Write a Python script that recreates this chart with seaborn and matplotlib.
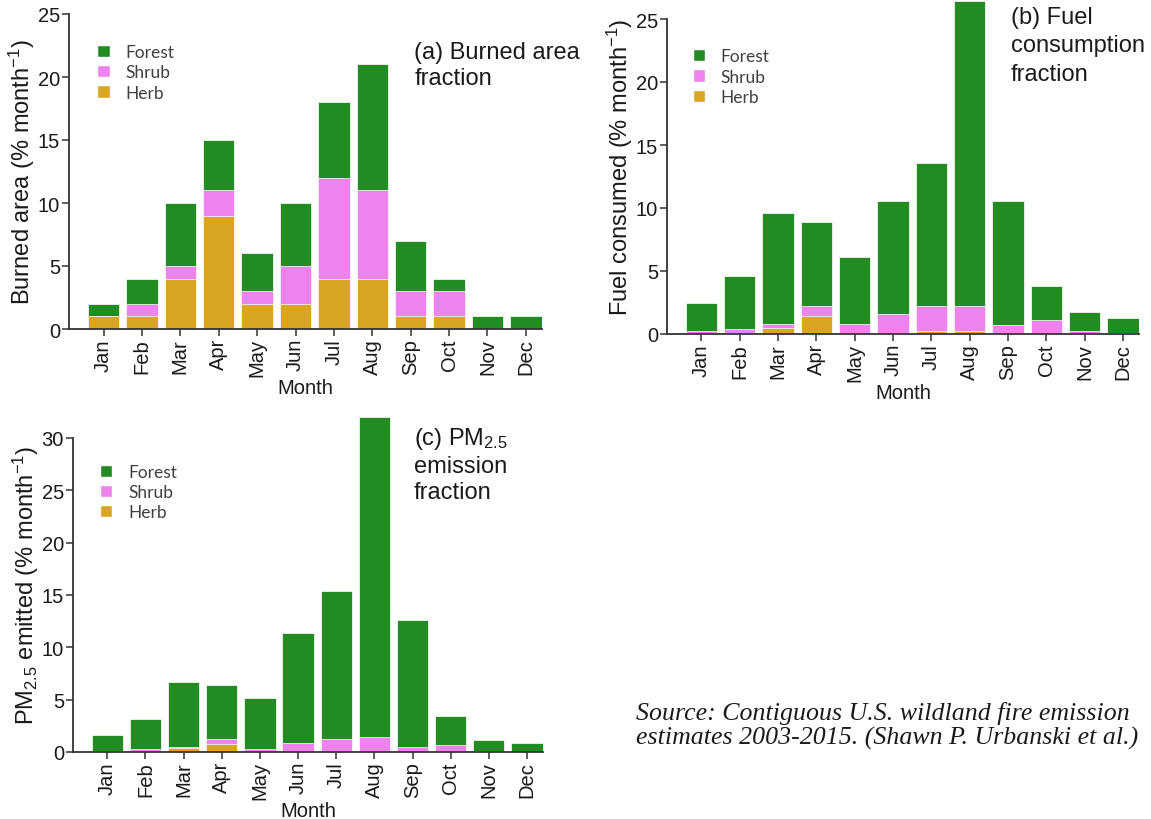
import matplotlib
matplotlib.use("Agg")
import matplotlib.pyplot as plt
import seaborn as sns
import numpy as np
from matplotlib.patches import Patch

months = ["Jan", "Feb", "Mar", "Apr", "May", "Jun", "Jul", "Aug", "Sep", "Oct", "Nov", "Dec"]

# (a) Burned area fraction (% month^-1)
area_herb   = [1, 1, 4, 9, 2, 2, 4, 4, 1, 1, 0, 0]
area_shrub  = [0, 1, 1, 2, 1, 3, 8, 7, 2, 2, 0, 0]
area_forest = [1, 2, 5, 4, 3, 5, 6, 10, 4, 1, 1, 1]

# (b) Fuel consumption fraction (% month^-1)
fuel_herb   = [0.1, 0.05, 0.5, 1.4, 0.1, 0.1, 0.2, 0.2, 0.05, 0.05, 0.05, 0.0]
fuel_shrub  = [0.1, 0.35, 0.3, 0.85, 0.7, 1.45, 2.0, 2.05, 0.65, 1.1, 0.15, 0.05]
fuel_forest = [2.3, 4.2, 8.8, 6.6, 5.35, 9.0, 11.35, 24.2, 9.85, 2.65, 1.55, 1.25]

# (c) PM2.5 emission fraction (% month^-1)
pm_herb   = [0.05, 0.05, 0.35, 0.8, 0.05, 0.05, 0.1, 0.1, 0.05, 0.05, 0.0, 0.0]
pm_shrub  = [0.05, 0.2, 0.13, 0.47, 0.25, 0.8, 1.17, 1.3, 0.43, 0.65, 0.05, 0.03]
pm_forest = [1.56, 2.87, 6.18, 5.1, 4.89, 10.52, 14.13, 30.6, 12.16, 2.74, 1.13, 0.86]

labels = ["Forest", "Shrub", "Herb"]
C_FOREST = "#228B22"
C_SHRUB = "#EE82EE"
C_HERB = "#DAA520"

sns.set_theme(style="ticks")
plt.rcParams["font.family"] = ["Liberation Sans", "DejaVu Sans"]
plt.rcParams["mathtext.fontset"] = "custom"
plt.rcParams["mathtext.rm"] = "Liberation Sans"
plt.rcParams["mathtext.it"] = "Liberation Sans:italic"
plt.rcParams["mathtext.bf"] = "Liberation Sans:bold"

fig = plt.figure(figsize=(11.51, 8.20), dpi=100)

W, H = 1151.0, 820.0
def axes_px(left, right, bottom, top):
    return fig.add_axes([left / W, 1 - bottom / H, (right - left) / W, (bottom - top) / H])

AX_COLOR = "#333333"

def draw_panel(ax, herb, shrub, forest, ylim_top, yticks, spine_top, ylabel,
               title, title_xy, title_ls, legend_xy):
    herb = np.array(herb, float)
    shrub = np.array(shrub, float)
    forest = np.array(forest, float)
    total = herb + shrub + forest
    hs = herb + shrub
    kw = dict(width=0.82, saturation=1, ax=ax, edgecolor="white", linewidth=0.5)
    sns.barplot(x=months, y=total, color=C_FOREST, **kw)
    sns.barplot(x=months, y=hs, color=C_SHRUB, **kw)
    sns.barplot(x=months, y=herb, color=C_HERB, **kw)
    ax.set_xlim(-0.9, 11.42)
    ax.set_ylim(0, ylim_top)
    ax.set_yticks(yticks)
    ax.set_yticklabels([str(v) for v in yticks])
    sns.despine(ax=ax)
    ax.spines["left"].set_bounds(0, spine_top)
    for s in ("left", "bottom"):
        ax.spines[s].set_color(AX_COLOR)
        ax.spines[s].set_linewidth(1.3)
    ax.tick_params(axis="both", colors=AX_COLOR, length=5, width=1.1,
                   labelsize=14.5, labelcolor="#1a1a1a", pad=1.5)
    ax.tick_params(axis="x", labelrotation=90)
    ax.set_xlabel("Month", fontsize=14.5, color="#1a1a1a", labelpad=1)
    ax.set_ylabel(ylabel, fontsize=17, color="#1a1a1a", labelpad=0.5)
    ax.text(title_xy[0], title_xy[1], title, transform=ax.transAxes,
            fontsize=17, color="#1a1a1a", ha="left", va="top", linespacing=title_ls)
    handles = [Patch(facecolor=C_FOREST), Patch(facecolor=C_SHRUB), Patch(facecolor=C_HERB)]
    ax.legend(handles, labels, loc="upper left", bbox_to_anchor=legend_xy,
              frameon=False, prop={"family": "Lato", "size": 12.5},
              labelcolor="#404040", handlelength=0.7, handleheight=0.7,
              handletextpad=0.9, labelspacing=0.25, borderpad=0, borderaxespad=0)

# Panel (a)
ax_a = axes_px(69, 542, 330, 15)
draw_panel(ax_a, area_herb, area_shrub, area_forest, 25, [0, 5, 10, 15, 20, 25], 25,
           "Burned area (% month$^{-1}$)", "(a) Burned area\nfraction",
           (0.73, 0.915), 1.22, (0.06, 0.905))

# Panel (b)
ax_b = axes_px(667, 1139, 335, 0)
draw_panel(ax_b, fuel_herb, fuel_shrub, fuel_forest, 335 / 12.6, [0, 5, 10, 15, 20, 25], 25,
           "Fuel consumed (% month$^{-1}$)", "(b) Fuel\nconsumption\nfraction",
           (0.728, 0.978), 1.36, (0.055, 0.853))

# Panel (c)
ax_c = axes_px(73, 543, 753, 417)
draw_panel(ax_c, pm_herb, pm_shrub, pm_forest, 336 / 10.47, [0, 5, 10, 15, 20, 25, 30], 30,
           "PM$_{2.5}$ emitted (% month$^{-1}$)", "(c) PM$_{2.5}$\nemission\nfraction",
           (0.725, 0.972), 1.22, (0.058, 0.858))

fig.text(636 / W, 1 - 702 / H,
         "Source: Contiguous U.S. wildland fire emission\nestimates 2003-2015. (Shawn P. Urbanski et al.)",
         fontsize=18.6, family="Liberation Serif", style="italic", color="#1a1a1a",
         ha="left", va="top", linespacing=1.08)

fig.savefig("out.png", dpi=100)
